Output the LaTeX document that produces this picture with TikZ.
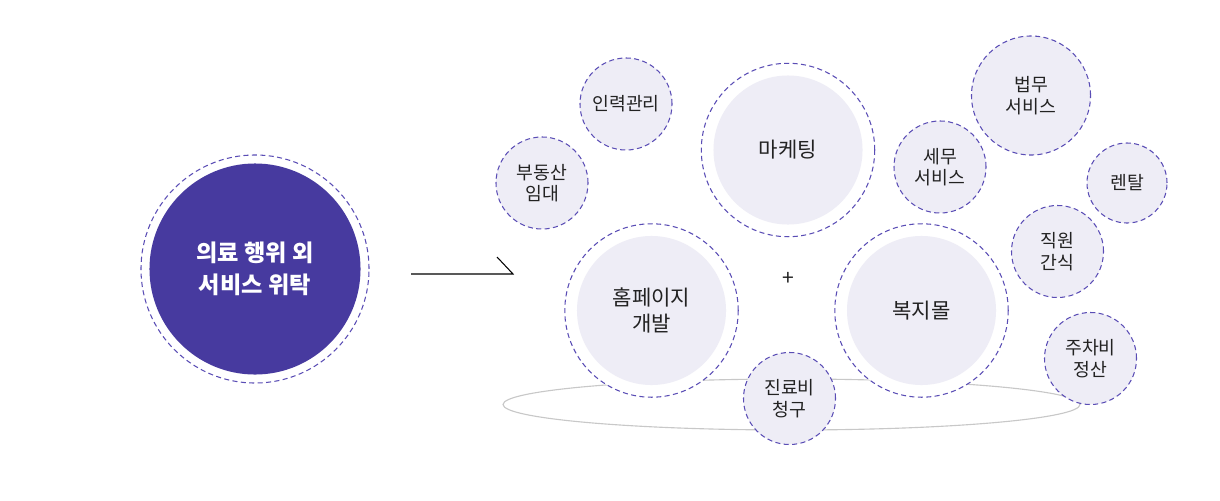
\documentclass[tikz,border=0pt]{standalone}
\usepackage{fontspec}
\setmainfont{Noto Sans CJK KR}
\usetikzlibrary{arrows.meta}

\begin{document}
\begin{tikzpicture}[x=0.025cm, y=-0.025cm,
  ring/.style={circle, draw=ringcolor, line width=0.75pt, dash pattern=on 3.6pt off 2.4pt, fill=white, inner sep=0pt},
  bigdisk/.style={circle, fill=bubblecolor, inner sep=0pt, minimum size=3.725cm, text=labelcolor, align=center, font=\fontsize{15pt}{18.5pt}\selectfont},
  smallbubble/.style={ring, fill=bubblecolor, minimum size=2.3cm, text=labelcolor, align=center, font=\fontsize{13pt}{15.3pt}\selectfont},
  arrowline/.style={line width=0.75pt, black}]

\definecolor{mainfillcolor}{RGB}{71, 58, 159}
\definecolor{ringcolor}{RGB}{90, 77, 181}
\definecolor{bubblecolor}{RGB}{238, 237, 246}
\definecolor{labelcolor}{RGB}{34, 34, 34}
\definecolor{ovalcolor}{RGB}{200, 200, 200}

\useasboundingbox (0, 0) rectangle (1220, 500);

\draw[ovalcolor, line width=0.8pt] (791.5, 404.5) ellipse [x radius=288.5, y radius=25.5];

\node[ring, minimum size=5.7cm] (main-ring) at (255, 269) {};
\node[circle, fill=mainfillcolor, inner sep=0pt, minimum size=5.275cm, text=white, align=center, font=\fontsize{16.5pt}{22.8pt}\selectfont\bfseries] (main) at (255, 269) {의료 행위 외\\서비스 위탁};

\coordinate (arrowtail) at (411, 274);
\coordinate (arrowtip) at (513, 274);
\draw[arrowline] (arrowtail) -- (arrowtip) -- ++(-16, -17);

\node[smallbubble] (hr) at (626, 104) {인력관리};
\node[smallbubble] (estate) at (542, 183) {부동산\\임대};

\node[ring, minimum size=4.335cm] (mkt-ring) at (788, 150) {};
\node[bigdisk] (mkt) at (788, 150) {마케팅};

\node[smallbubble, minimum size=2.975cm] (legal) at (1031, 95.5) {법무\\서비스};
\node[smallbubble] (tax) at (940, 167) {세무\\서비스};
\node[smallbubble, minimum size=2.0cm] (rental) at (1127, 183) {렌탈};
\node[smallbubble] (snack) at (1057.5, 251.5) {직원\\간식};

\node[ring, minimum size=4.335cm] (web-ring) at (651.5, 310.5) {};
\node[bigdisk] (web) at (651.5, 310.5) {홈페이지\\개발};

\node[text=labelcolor, font=\fontsize{15pt}{16pt}\selectfont] (plus) at (788, 279) {+};

\node[ring, minimum size=4.335cm] (mall-ring) at (921.5, 310.5) {};
\node[bigdisk] (mall) at (921.5, 310.5) {복지몰};

\node[smallbubble] (billing) at (789.5, 398.5) {진료비\\청구};
\node[smallbubble] (parking) at (1090.5, 358.5) {주차비\\정산};

\end{tikzpicture}
\end{document}
